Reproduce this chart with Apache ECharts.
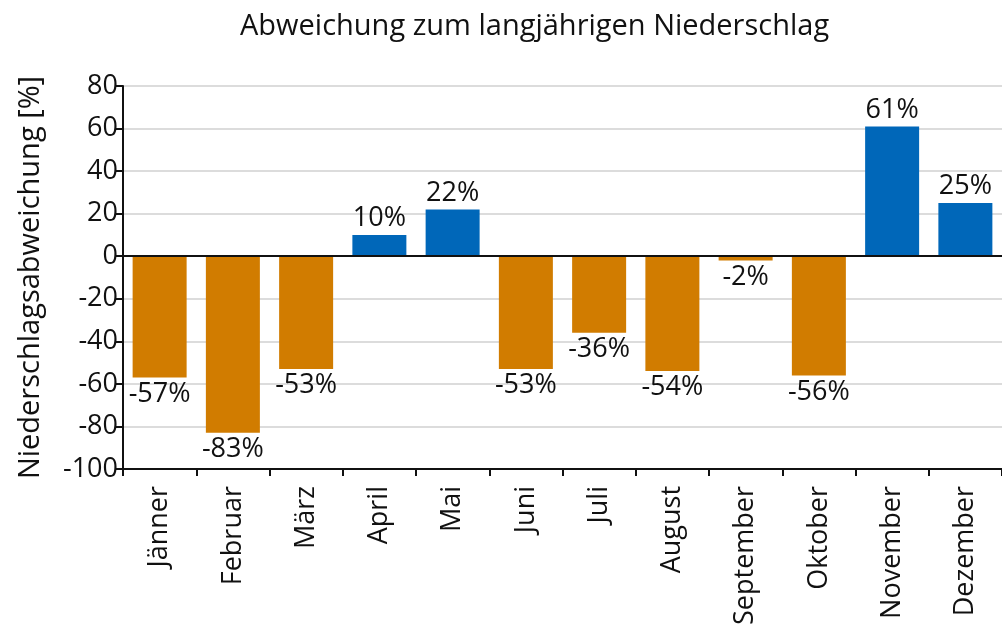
<!DOCTYPE html>
<html>
<head>
<meta charset="utf-8">
<script src="https://cdn.jsdelivr.net/npm/echarts@6/dist/echarts.min.js"></script>
<style>
  html, body { margin: 0; padding: 0; background: #fff; }
  #chart { width: 1002px; height: 637px; }
</style>
</head>
<body>
<div id="chart"></div>
<script>
// Monate und Abweichung vom langjährigen Niederschlag in %
var months = ['Jänner', 'Februar', 'März', 'April', 'Mai', 'Juni', 'Juli', 'August', 'September', 'Oktober', 'November', 'Dezember'];
var deviation = [-57, -83, -53, 10, 22, -53, -36, -54, -2, -56, 61, 25];
var yTicks = { min: -100, max: 80, interval: 20 };

var colorPos = '#0067b9';
var colorNeg = '#d17c00';
var fontFam = '"Open Sans", sans-serif';

var chart = echarts.init(document.getElementById('chart'));

// jedem Balken Farbe und Beschriftungsposition nach Vorzeichen geben
var barData = deviation.map(function (v) {
  return {
    value: v,
    itemStyle: { color: v >= 0 ? colorPos : colorNeg },
    label: { position: v >= 0 ? 'top' : 'bottom' }
  };
});

var option = {
  backgroundColor: '#fff',
  animation: false,
  title: {
    text: 'Abweichung zum langjährigen Niederschlag',
    left: 235,
    top: 7,
    textStyle: { fontFamily: fontFam, fontSize: 29, fontWeight: 'normal', color: '#111' }
  },
  grid: { left: 123, right: -1, top: 86, bottom: 168 },
  xAxis: {
    type: 'category',
    data: months,
    axisLine: { onZero: false, lineStyle: { color: '#111', width: 2 } },
    axisTick: { show: true, length: 7, lineStyle: { color: '#111', width: 2 } },
    axisLabel: { rotate: 90, margin: 17, fontSize: 27, fontFamily: fontFam, color: '#111' },
    splitLine: { show: false }
  },
  yAxis: {
    type: 'value',
    min: yTicks.min,
    max: yTicks.max,
    interval: yTicks.interval,
    name: 'Niederschlagsabweichung [%]',
    nameLocation: 'middle',
    nameGap: 78,
    nameTextStyle: { fontSize: 29, fontFamily: fontFam, color: '#111' },
    axisLine: { show: true, lineStyle: { color: '#111', width: 2 } },
    axisTick: { show: true, length: 7, lineStyle: { color: '#111', width: 2 } },
    axisLabel: { fontSize: 27, margin: 5, fontFamily: fontFam, color: '#111' },
    splitLine: { show: true, lineStyle: { color: '#dcdcdc', width: 2 } }
  },
  series: [{
    type: 'bar',
    data: barData,
    barWidth: 54,
    label: {
      show: true,
      distance: 3,
      fontSize: 27,
      fontFamily: fontFam,
      color: '#111',
      formatter: function (p) { return p.value + '%'; }
    },
    markLine: {
      silent: true,
      symbol: 'none',
      label: { show: false },
      lineStyle: { color: '#111', width: 2, type: 'solid' },
      data: [{ yAxis: 0 }]
    }
  }]
};

chart.setOption(option);
</script>
</body>
</html>
